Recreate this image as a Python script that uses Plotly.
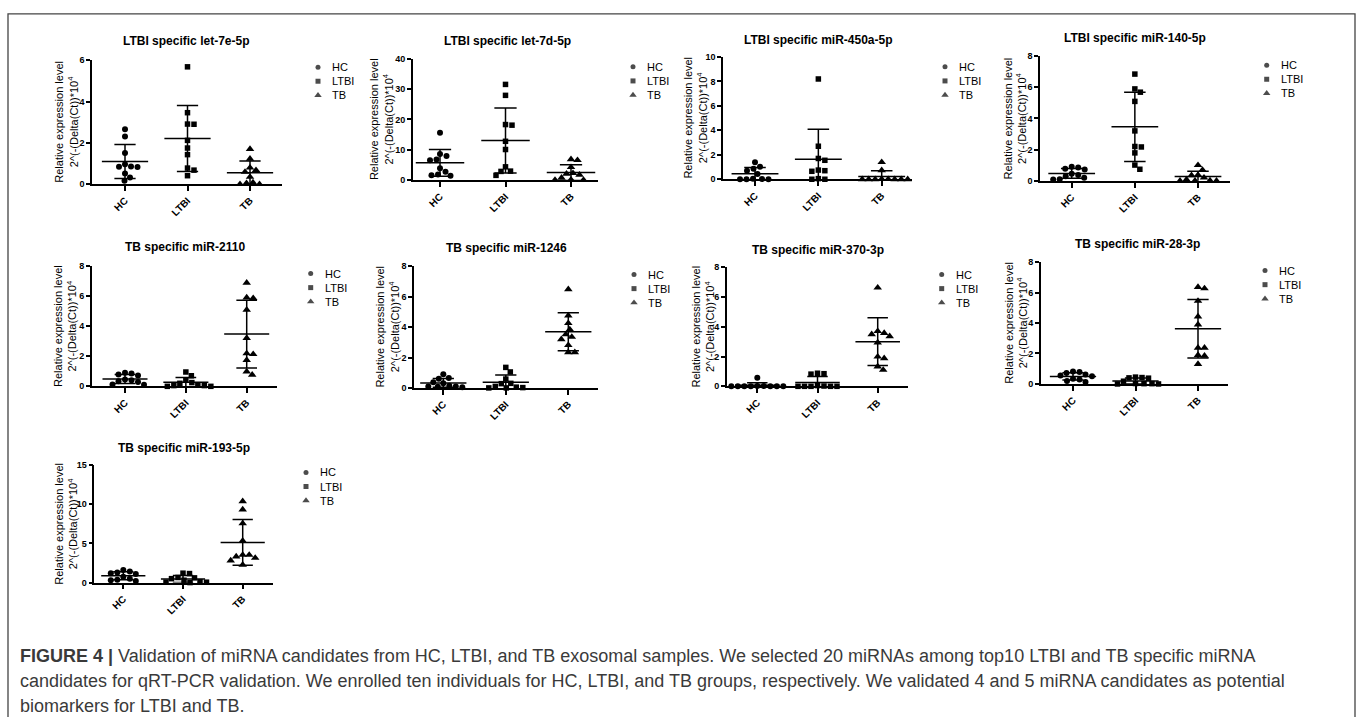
import plotly.graph_objects as go

W, H = 1360, 720
FONT = "Liberation Sans, Arial, sans-serif"

GROUPS = ["HC", "LTBI", "TB"]

# ---------------- data ----------------
let7e_HC = [2.66, 2.31, 1.51, 0.96, 0.85, 0.84, 0.83, 0.52, 0.32, 0.16]
let7e_LTBI = [5.68, 3.46, 2.91, 2.90, 2.12, 1.75, 1.43, 0.78, 0.68, 0.41]
let7e_TB = [1.70, 1.23, 0.80, 0.68, 0.59, 0.35, 0.08, 0.05, 0.0, 0.0]

let7d_HC = [15.6, 8.6, 8.0, 6.8, 6.6, 3.9, 2.8, 1.9, 1.6, 1.5]
let7d_LTBI = [31.5, 27.9, 18.3, 18.1, 12.8, 10.1, 4.4, 3.0, 2.9, 1.6]
let7d_TB = [6.9, 6.6, 4.3, 2.3, 2.1, 1.8, 0.8, 0.2, 0.1, 0.1]

mir450a_HC = [1.38, 1.02, 0.85, 0.70, 0.42, 0.04, 0.02, 0.0, 0.0, 0.0]
mir450a_LTBI = [8.2, 2.7, 1.7, 1.55, 0.75, 0.70, 0.65, 0.05, 0.0, 0.0]
mir450a_TB = [1.40, 0.73, 0.02, 0.01, 0.0, 0.0, 0.0, 0.0, 0.0, 0.0]

mir140_HC = [0.90, 0.85, 0.78, 0.72, 0.45, 0.38, 0.30, 0.20, 0.10, 0.08]
mir140_LTBI = [6.84, 5.89, 5.68, 5.09, 3.20, 2.20, 2.17, 1.79, 1.01, 0.74]
mir140_TB = [1.00, 0.70, 0.38, 0.35, 0.20, 0.08, 0.02, 0.01, 0.0, 0.0]

mir2110_HC = [0.90, 0.85, 0.78, 0.72, 0.45, 0.40, 0.33, 0.28, 0.12, 0.10]
mir2110_LTBI = [0.95, 0.70, 0.40, 0.25, 0.20, 0.10, 0.05, 0.05, 0.0, 0.0]
mir2110_TB = [6.86, 5.88, 5.84, 5.07, 3.20, 2.18, 2.13, 1.74, 0.98, 0.76]

mir1246_HC = [0.90, 0.65, 0.60, 0.38, 0.30, 0.15, 0.10, 0.10, 0.08, 0.05]
mir1246_LTBI = [1.35, 1.05, 0.58, 0.30, 0.28, 0.10, 0.05, 0.02, 0.0, 0.0]
mir1246_TB = [6.49, 4.76, 4.26, 3.85, 3.52, 3.35, 3.20, 2.81, 2.34, 2.34]

mir370_HC = [0.58, 0.03, 0.02, 0.01, 0.01, 0.0, 0.0, 0.0, 0.0, 0.0]
mir370_LTBI = [0.88, 0.85, 0.82, 0.05, 0.02, 0.0, 0.0, 0.0, 0.0, 0.0]
mir370_TB = [6.63, 3.71, 3.58, 3.50, 3.36, 2.94, 1.99, 1.88, 1.33, 1.10]

mir28_HC = [0.82, 0.78, 0.72, 0.62, 0.55, 0.50, 0.35, 0.30, 0.20, 0.13]
mir28_LTBI = [0.45, 0.42, 0.40, 0.38, 0.18, 0.03, 0.02, 0.02, 0.0, 0.0]
mir28_TB = [6.36, 6.27, 5.45, 4.42, 3.90, 2.37, 2.37, 1.90, 1.85, 1.31]

mir193_HC = [1.60, 1.40, 1.30, 1.20, 1.10, 0.75, 0.50, 0.35, 0.30, 0.20]
mir193_LTBI = [1.20, 1.15, 0.65, 0.60, 0.50, 0.30, 0.10, 0.05, 0.05, 0.0]
mir193_TB = [10.38, 9.33, 7.56, 5.34, 3.53, 3.53, 3.32, 3.15, 2.82, 2.27]

TITLES = [
    "LTBI specific let-7e-5p", "LTBI specific let-7d-5p",
    "LTBI specific miR-450a-5p", "LTBI specific miR-140-5p",
    "TB specific miR-2110", "TB specific miR-1246",
    "TB specific miR-370-3p", "TB specific miR-28-3p",
    "TB specific miR-193-5p",
]
YMAX = [6, 40, 10, 8, 8, 8, 8, 8, 15]
YSTEP = [2, 10, 2, 2, 2, 2, 2, 2, 5]

SERIES = [
    (let7e_HC, let7e_LTBI, let7e_TB),
    (let7d_HC, let7d_LTBI, let7d_TB),
    (mir450a_HC, mir450a_LTBI, mir450a_TB),
    (mir140_HC, mir140_LTBI, mir140_TB),
    (mir2110_HC, mir2110_LTBI, mir2110_TB),
    (mir1246_HC, mir1246_LTBI, mir1246_TB),
    (mir370_HC, mir370_LTBI, mir370_TB),
    (mir28_HC, mir28_LTBI, mir28_TB),
    (mir193_HC, mir193_LTBI, mir193_TB),
]

YLABEL = "Relative expression level<br>2^(-(Delta(Ct))*10<sup>4</sup>"
CAPTION = [
    "<b>FIGURE 4 |</b> Validation of miRNA candidates from HC, LTBI, and TB exosomal samples. We selected 20 miRNAs among top10 LTBI and TB specific miRNA",
    "candidates for qRT-PCR validation. We enrolled ten individuals for HC, LTBI, and TB groups, respectively. We validated 4 and 5 miRNA candidates as potential",
    "biomarkers for LTBI and TB.",
]

# ---------------- layout geometry (pixels) ----------------
GEO = [
    dict(x0=92, x1=282, hc=125, tb=250, yb=181.7, yt=56, tx=186, ty=37, lab=-25.5, legx=318, legy=63),
    dict(x0=412.7, x1=598, hc=440, tb=571, yb=177.7, yt=54.3, tx=507, ty=37, lab=-31, legx=633, legy=62.7),
    dict(x0=723, x1=911.7, hc=755, tb=881.7, yb=176.7, yt=52.7, tx=818, ty=35, lab=-27.5, legx=945, legy=62.7),
    dict(x0=1040, x1=1230, hc=1071.7, tb=1198, yb=178.3, yt=51.7, tx=1135, ty=33.5, lab=-25, legx=1266.7, legy=61),
    dict(x0=91.7, x1=276.7, hc=125, tb=246.7, yb=386.7, yt=264.3, tx=185, ty=245, lab=-26.7, legx=310.7, legy=272.3),
    dict(x0=414, x1=598.3, hc=443.3, tb=568.3, yb=388.3, yt=265, tx=506.7, ty=246, lab=-26.5, legx=634, legy=273.3),
    dict(x0=726.7, x1=908.3, hc=757.3, tb=877.7, yb=386.7, yt=266, tx=817.5, ty=248.3, lab=-24, legx=941.7, legy=273.3),
    dict(x0=1040.7, x1=1228, hc=1073, tb=1198, yb=384.3, yt=260.7, tx=1137.5, ty=242.3, lab=-25, legx=1265, legy=269.3),
    dict(x0=94.3, x1=273, hc=123.3, tb=242.7, yb=585.7, yt=466.7, tx=184, ty=449, lab=-28.5, legx=306, legy=474),
]
SYMBOLS = ["circle", "square", "triangle-up"]
MSIZE = [6, 5.5, 7.5]
LEG_MSIZE = [5, 5, 6.5]
DIAM = 6.4


def fx(x):
    return x / W


def fy(y):
    return 1 - y / H


def swarm(vals, upx, cpx):
    """Simple beeswarm: offsets (category units) so markers do not overlap."""
    order = sorted(range(len(vals)), key=lambda i: -vals[i])
    placed = []
    offs = [0.0] * len(vals)
    cands = [0.0]
    for k in range(1, 200):
        cands += [k * 0.5, -k * 0.5]
    for i in order:
        yv = vals[i] * upx
        for c in cands:
            if all((c - a) ** 2 + (yv - b) ** 2 >= DIAM ** 2 for a, b in placed):
                placed.append((c, yv))
                offs[i] = c / cpx
                break
    return offs


def mean_sd(v):
    n = len(v)
    m = sum(v) / n
    s = (sum((a - m) ** 2 for a in v) / (n - 1)) ** 0.5
    return m, s


fig = go.Figure()
ann = []
lay = {}

# canvas axis (pixel coordinates) for the legend symbols
lay["xaxis10"] = dict(domain=[0, 1], range=[0, W], visible=False, fixedrange=True, anchor="y10")
lay["yaxis10"] = dict(domain=[0, 1], range=[H, 0], visible=False, fixedrange=True, anchor="x10")

for p, (title, series) in enumerate(zip(TITLES, SERIES)):
    g = GEO[p]
    k = p + 1
    xn = "x" if k == 1 else f"x{k}"
    yn = "y" if k == 1 else f"y{k}"
    sp = (g["tb"] - g["hc"]) / 2.0
    upx = (g["yb"] - g["yt"]) / YMAX[p]
    xr = [-(g["hc"] - g["x0"]) / sp, 2 + (g["x1"] - g["tb"]) / sp]

    for gi, vals in enumerate(series):
        offs = swarm(vals, upx, sp)
        fig.add_trace(go.Scatter(
            x=[gi + o for o in offs], y=vals, mode="markers",
            marker=dict(symbol=SYMBOLS[gi], size=MSIZE[gi], color="black",
                        line=dict(width=0)),
            cliponaxis=False, xaxis=xn, yaxis=yn, showlegend=False,
            hoverinfo="skip"))
        m, s = mean_sd(vals)
        lx, ly = [], []
        lx += [gi - 0.37, gi + 0.37, None]; ly += [m, m, None]
        lx += [gi, gi, None]; ly += [m - s, m + s, None]
        lx += [gi - 0.17, gi + 0.17, None]; ly += [m + s, m + s, None]
        lx += [gi - 0.17, gi + 0.17, None]; ly += [m - s, m - s, None]
        fig.add_trace(go.Scatter(
            x=lx, y=ly, mode="lines", line=dict(color="black", width=1.5),
            xaxis=xn, yaxis=yn, showlegend=False, hoverinfo="skip"))

    lay["xaxis" if k == 1 else f"xaxis{k}"] = dict(
        domain=[fx(g["x0"]), fx(g["x1"])], range=xr, anchor=yn,
        tickvals=[0, 1, 2], ticktext=GROUPS, tickangle=-45,
        ticks="outside", ticklen=5, tickwidth=1.5, tickcolor="black",
        showline=True, linewidth=1.5, linecolor="black",
        showgrid=False, zeroline=False, fixedrange=True,
        tickfont=dict(family=FONT, size=10, color="black", weight="bold"))
    lay["yaxis" if k == 1 else f"yaxis{k}"] = dict(
        domain=[fy(g["yb"]), fy(g["yt"])], range=[0, YMAX[p]], anchor=xn,
        tickvals=list(range(0, YMAX[p] + 1, YSTEP[p])),
        ticks="outside", ticklen=4, tickwidth=1.5, tickcolor="black",
        showline=True, linewidth=1.5, linecolor="black",
        showgrid=False, zeroline=False, fixedrange=True,
        tickfont=dict(family=FONT, size=9, color="black", weight="bold"))

    # title
    ann.append(dict(text=f"<b>{title}</b>", x=fx(g["tx"]), y=fy(g["ty"]),
                    xref="paper", yref="paper", xanchor="center", yanchor="middle",
                    showarrow=False, font=dict(family=FONT, size=12, color="black")))
    # y label
    ann.append(dict(text=YLABEL, x=fx(g["x0"] + g["lab"]), y=fy((g["yb"] + g["yt"]) / 2),
                    xref="paper", yref="paper", xanchor="center", yanchor="middle",
                    textangle=-90, showarrow=False,
                    font=dict(family=FONT, size=11, color="black")))
    # legend
    lgy = [g["legy"] + i * 14.3 for i in range(3)]
    fig.add_trace(go.Scatter(
        x=[g["legx"]] * 3, y=lgy, mode="markers",
        marker=dict(symbol=SYMBOLS, size=LEG_MSIZE, color="black", line=dict(width=0)),
        xaxis="x10", yaxis="y10", showlegend=False, hoverinfo="skip", cliponaxis=False))
    for i, gname in enumerate(GROUPS):
        ann.append(dict(text=gname, x=fx(g["legx"] + 12), y=fy(lgy[i]),
                        xref="paper", yref="paper", xanchor="left", yanchor="middle",
                        showarrow=False, font=dict(family=FONT, size=11, color="black")))

for i, line in enumerate(CAPTION):
    ann.append(dict(text=line, x=fx(18), y=fy(660 + i * 25.5), xref="paper", yref="paper",
                    xanchor="left", yanchor="middle", showarrow=False,
                    font=dict(family=FONT, size=18, color="#3a3a3a")))

frame = dict(type="path", xref="paper", yref="paper",
             path=f"M {fx(8)} {fy(722)} L {fx(8)} {fy(9)} L {fx(1355)} {fy(9)} L {fx(1355)} {fy(722)}",
             line=dict(color="#444444", width=1.3))

fig.update_layout(
    width=W, height=H, margin=dict(l=0, r=0, t=0, b=0),
    paper_bgcolor="white", plot_bgcolor="rgba(0,0,0,0)",
    annotations=ann, shapes=[frame], showlegend=False,
    font=dict(family=FONT), **lay)

fig.write_html("out.html", config={"displayModeBar": False})
